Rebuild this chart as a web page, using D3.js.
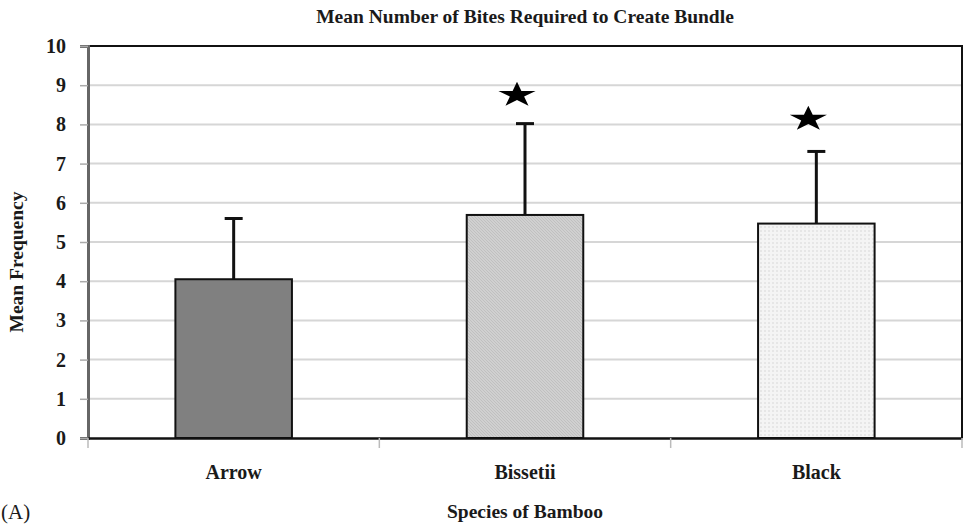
<!DOCTYPE html>
<html>
<head>
<meta charset="utf-8">
<script src="https://d3js.org/d3.v7.min.js"></script>
<style>
  body { margin: 0; background: #fff; }
  text { font-family: "Liberation Serif", "Times New Roman", serif; fill: #1a1a1a; }
</style>
</head>
<body>
<div id="chart"></div>
<script>
// chart data
const categories = ['Arrow', 'Bissetii', 'Black'];
const means = [4.05, 5.69, 5.47];
const errUpper = [1.55, 2.33, 1.84];
const starLevels = [null, 8.8, 8.19];
const yTicks = [0, 1, 2, 3, 4, 5, 6, 7, 8, 9, 10];
const fills = ['#808080', 'url(#hatch)', 'url(#dots)'];

const W = 965, H = 528;
const margin = { top: 46, right: 3, bottom: 90, left: 88 };
const width = W - margin.left - margin.right;
const height = H - margin.top - margin.bottom;

const svg = d3.select('#chart').append('svg')
    .attr('width', W)
    .attr('height', H);

// fill patterns
const defs = svg.append('defs');
const hatch = defs.append('pattern')
    .attr('id', 'hatch')
    .attr('patternUnits', 'userSpaceOnUse')
    .attr('width', 3).attr('height', 3);
hatch.append('rect').attr('width', 3).attr('height', 3).attr('fill', '#d0d0d0');
hatch.append('path').attr('d', 'M0,0 L3,3 M-1,2 L1,4 M2,-1 L4,1')
    .attr('stroke', '#bcbcbc').attr('stroke-width', 0.8);

const dots = defs.append('pattern')
    .attr('id', 'dots')
    .attr('patternUnits', 'userSpaceOnUse')
    .attr('width', 4).attr('height', 4);
dots.append('rect').attr('width', 4).attr('height', 4).attr('fill', '#f4f4f4');
dots.append('rect').attr('x', 0).attr('y', 0).attr('width', 2).attr('height', 2).attr('fill', '#e6e6e6');

const g = svg.append('g')
    .attr('transform', `translate(${margin.left},${margin.top})`);

// scales
const x = d3.scaleBand()
    .domain(categories)
    .range([0, width])
    .padding(0);

const y = d3.scaleLinear()
    .domain([0, 10])
    .range([height, 0]);

const barW = x.bandwidth() * 0.4;

// grid lines
g.append('g')
    .selectAll('line')
    .data(yTicks.filter(d => d > 0 && d < 10))
    .enter()
    .append('line')
    .attr('x1', 0).attr('x2', width)
    .attr('y1', d => y(d)).attr('y2', d => y(d))
    .attr('stroke', '#d6d6d6')
    .attr('stroke-width', 2);

// frame top / right
g.append('path')
    .attr('d', `M0,${y(10)} H${width} V${height}`)
    .attr('fill', 'none')
    .attr('stroke', '#111')
    .attr('stroke-width', 2);

// y axis
const yAxis = g.append('g')
    .call(d3.axisLeft(y).tickValues(yTicks).tickSize(8).tickFormat(d3.format('d')));
yAxis.select('.domain').attr('stroke', '#666').attr('stroke-width', 3);
yAxis.selectAll('.tick line').attr('stroke', '#aaa').attr('stroke-width', 1.5);
yAxis.selectAll('.tick text')
    .attr('x', -22)
    .style('font-size', '20px')
    .style('font-weight', 'bold')
    .style('font-family', '"Liberation Serif", serif')
    .attr('fill', '#1a1a1a');

// bars
g.selectAll('.bar')
    .data(categories)
    .enter()
    .append('rect')
    .attr('class', 'bar')
    .attr('x', d => x(d) + x.bandwidth() / 2 - barW / 2)
    .attr('y', (d, i) => y(means[i]))
    .attr('width', barW)
    .attr('height', (d, i) => height - y(means[i]))
    .attr('fill', (d, i) => fills[i])
    .attr('stroke', '#111')
    .attr('stroke-width', 2);

// error bars
const eb = g.selectAll('.err')
    .data(categories)
    .enter()
    .append('g')
    .attr('class', 'err');
eb.append('line')
    .attr('x1', d => x(d) + x.bandwidth() / 2)
    .attr('x2', d => x(d) + x.bandwidth() / 2)
    .attr('y1', (d, i) => y(means[i]))
    .attr('y2', (d, i) => y(means[i] + errUpper[i]))
    .attr('stroke', '#111')
    .attr('stroke-width', 3);
eb.append('line')
    .attr('x1', d => x(d) + x.bandwidth() / 2 - 9)
    .attr('x2', d => x(d) + x.bandwidth() / 2 + 9)
    .attr('y1', (d, i) => y(means[i] + errUpper[i]))
    .attr('y2', (d, i) => y(means[i] + errUpper[i]))
    .attr('stroke', '#111')
    .attr('stroke-width', 3);

// significance stars
const star = d3.symbol().type(d3.symbolStar).size(430);
g.selectAll('.star')
    .data(categories.filter((d, i) => starLevels[i] != null))
    .enter()
    .append('path')
    .attr('class', 'star')
    .attr('d', star)
    .attr('fill', '#000')
    .attr('transform', d => {
        const v = starLevels[categories.indexOf(d)];
        return `translate(${x(d) + x.bandwidth() / 2 - 8},${y(v) + 2}) scale(1,0.68)`;
    });

// x axis
const xAxis = g.append('g')
    .attr('transform', `translate(0,${height})`)
    .call(d3.axisBottom(x).tickSize(0).tickPadding(27));
xAxis.select('.domain').attr('stroke', '#111').attr('stroke-width', 2.5);
xAxis.selectAll('.tick text')
    .style('font-size', '20px')
    .style('font-weight', 'bold')
    .style('font-family', '"Liberation Serif", serif')
    .attr('fill', '#1a1a1a');

// x boundary ticks
g.append('g')
    .selectAll('line')
    .data(d3.range(categories.length + 1))
    .enter()
    .append('line')
    .attr('x1', i => i * x.step())
    .attr('x2', i => i * x.step())
    .attr('y1', height)
    .attr('y2', height + 10)
    .attr('stroke', '#bbb')
    .attr('stroke-width', 1.5);

// titles
svg.append('text')
    .attr('x', 525)
    .attr('y', 23)
    .attr('text-anchor', 'middle')
    .style('font-size', '19.5px')
    .style('font-weight', 'bold')
    .text('Mean Number of Bites Required to Create Bundle');

svg.append('text')
    .attr('x', 525)
    .attr('y', 518)
    .attr('text-anchor', 'middle')
    .style('font-size', '19.5px')
    .style('font-weight', 'bold')
    .text('Species of Bamboo');

svg.append('text')
    .attr('transform', 'translate(23,262) rotate(-90)')
    .attr('text-anchor', 'middle')
    .style('font-size', '19.5px')
    .style('font-weight', 'bold')
    .text('Mean Frequency');

svg.append('text')
    .attr('x', 1)
    .attr('y', 519)
    .style('font-size', '21px')
    .text('(A)');
</script>
</body>
</html>
